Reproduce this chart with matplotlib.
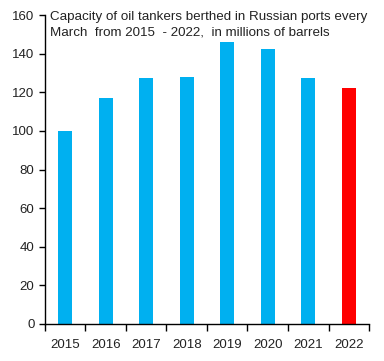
import numpy as np
import matplotlib.pyplot as plt

years = ['2015', '2016', '2017', '2018', '2019', '2020', '2021', '2022']
capacity = [100, 117, 127.5, 128, 146, 142.5, 127.5, 122.5]
colors = ['#00B0F0'] * 7 + ['#FF0000']

plt.rcParams['font.family'] = ['Liberation Sans', 'DejaVu Sans']

fig = plt.figure(figsize=(3.84, 3.61), dpi=100)
ax = fig.add_axes([0.117, 0.1025, 0.844, 0.8555])

x = np.arange(len(years))
ax.bar(x, capacity, width=0.34, color=colors)

ax.set_xlim(-0.5, len(years) - 0.5)
ax.set_ylim(0, 160)
ax.set_yticks(range(0, 161, 20))
ax.set_xticks(x)
ax.set_xticklabels(years)
ax.set_xticks(np.arange(-0.5, len(years), 1), minor=True)
ax.tick_params(axis='x', which='major', length=0, pad=11, labelsize=9.5, colors='#222222')
ax.tick_params(axis='x', which='minor', length=5, width=1, direction='out')
ax.tick_params(axis='y', length=4, width=1, labelsize=9.5, colors='black', labelcolor='#222222')

for s in ['top', 'right']:
    ax.spines[s].set_visible(False)
for s in ['left', 'bottom']:
    ax.spines[s].set_linewidth(1)

ax.text(0.015, 1.013, 'Capacity of oil tankers berthed in Russian ports every\nMarch  from 2015  - 2022,  in millions of barrels',
        transform=ax.transAxes, va='top', ha='left', fontsize=9.6, color='#222222', linespacing=1.38)

fig.savefig('out.png', dpi=100)
